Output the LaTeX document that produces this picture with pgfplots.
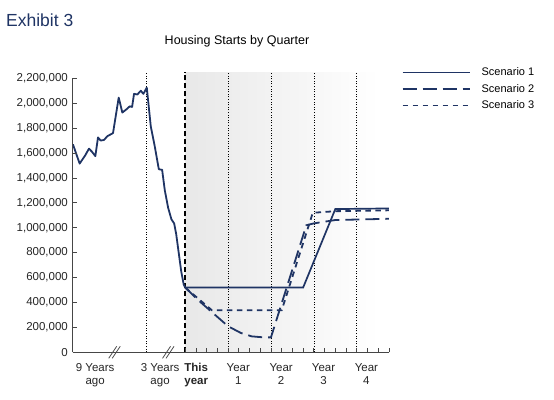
\documentclass[border=0pt]{standalone}
\usepackage{fontspec}
\setmainfont{Liberation Sans}
\usepackage{pgfplots}
\pgfplotsset{compat=1.18}
\definecolor{navy}{RGB}{31,52,100}
\definecolor{axisgray}{RGB}{70,70,70}
\begin{document}
\begin{tikzpicture}[x=1pt,y=1pt]
\node[anchor=base west, font=\fontsize{17.5}{20}\selectfont, text=navy, inner sep=0] at (6,372) {Exhibit 3};
\node[anchor=base, font=\fontsize{12.5}{15}\selectfont, inner sep=0] at (237,354) {Housing Starts by Quarter};
\begin{axis}[
  at={(68,37.5)}, anchor=south west,
  scale only axis, width=316pt, height=274pt,
  xmin=-10.47, xmax=19, ymin=0, ymax=2200000,
  clip=false, axis on top,
  axis x line*=bottom, axis y line*=left,
  axis line style={axisgray, line width=0.9pt},
  every tick/.style={axisgray, line width=0.8pt},
  tick align=inside, major tick length=4.5pt,
  xtick={0,1,2,3,4,5,6,7,8,9,10,11,12,13,14,15,16,17,18,19},
  xticklabels={},
  ytick={0,200000,400000,600000,800000,1000000,1200000,1400000,1600000,1800000,2000000,2200000},
  scaled y ticks=false,
  yticklabel style={/tikz/xshift=-1.5pt, /pgf/number format/.cd, fixed, 1000 sep={,}, assume math mode=true},
  tick label style={font=\fontsize{11.5}{13}\selectfont, text=black!85},
  legend style={draw=none, fill=none, at={(1.04,1.046)}, anchor=north west,
    font=\fontsize{11}{13}\selectfont, row sep=3pt, inner sep=0pt},
  legend cell align=left,
  legend image code/.code={\draw[#1] (0pt,0pt) -- (67pt,0pt); \path[draw=none] (0pt,0pt) -- (77pt,0pt);},
]
\fill[left color=black!9, right color=white, shading=axis] (axis cs:0,0) rectangle (axis cs:18,2250000);
\foreach \xv in {-3.6,4,8,12,16}{
  \edef\tmp{\noexpand\draw[black, line width=0.7pt, dash pattern=on 1pt off 1.6pt] (axis cs:\xv,0) -- (axis cs:\xv,2250000);}\tmp
}
\draw[black, line width=2pt, dash pattern=on 5.5pt off 2.5pt] (axis cs:0,0) -- (axis cs:0,2250000);

\addplot[navy, line width=1.8pt, forget plot, line join=round] coordinates {
(-10.47,1670000) (-9.84,1515000) (-9.32,1582000) (-8.97,1635000) (-8.69,1610000)
(-8.38,1575000) (-8.13,1725000) (-7.88,1700000) (-7.57,1705000) (-7.26,1735000)
(-6.73,1760000) (-6.20,2045000) (-5.86,1925000) (-5.49,1950000) (-5.17,1975000)
(-4.95,1970000) (-4.77,2075000) (-4.46,2070000) (-4.14,2100000) (-3.90,2075000)
(-3.58,2125000) (-3.21,1815000) (-2.83,1650000) (-2.46,1470000) (-2.15,1465000)
(-1.90,1300000) (-1.59,1160000) (-1.28,1067000) (-1.03,1035000) (-0.84,950000)
(-0.37,650000) (-0.14,545000) (0,520000)};

\addplot[navy, line width=1.7pt] coordinates {(0,520000) (11,520000) (14,1150000) (19,1155000)};
\addlegendentry{Scenario 1}
\addplot[navy, line width=1.8pt, dash pattern=on 14pt off 6pt] coordinates {
(0,520000) (1.2,420000) (2.3,337000) (4,209000) (5.2,155000) (6.2,128000) (7.3,120000) (8,120000)
(11.3,1020000) (12,1035000) (14,1062000) (19,1072000)};
\addlegendentry{Scenario 2}
\addplot[navy, line width=1.8pt, dash pattern=on 5.5pt off 4.5pt] coordinates {
(0,520000) (2.5,337000) (9,337000) (11.9,1120000) (14,1133000) (19,1140000)};
\addlegendentry{Scenario 3}

\draw[axisgray, line width=0.8pt] ([xshift=-6pt,yshift=-6pt]axis cs:-6.57,0) -- ++(8pt,12pt);
\draw[axisgray, line width=0.8pt] ([xshift=-2.5pt,yshift=-6pt]axis cs:-6.57,0) -- ++(8pt,12pt);
\draw[axisgray, line width=0.8pt] ([xshift=-6pt,yshift=-6pt]axis cs:-1.55,0) -- ++(8pt,12pt);
\draw[axisgray, line width=0.8pt] ([xshift=-2.5pt,yshift=-6pt]axis cs:-1.55,0) -- ++(8pt,12pt);

\tikzset{xl/.style={anchor=north, align=center, inner sep=0pt, font=\fontsize{11.5}{13}\selectfont, text=black!85}}
\node[xl] at ([yshift=-11pt]axis cs:-8.4,0) {9 Years\\ago};
\node[xl] at ([yshift=-11pt]axis cs:-2.34,0) {3 Years\\ago};
\node[xl, font=\fontsize{11.5}{13}\selectfont\bfseries] at ([yshift=-11pt]axis cs:1.03,0) {This\\year};
\node[xl] at ([yshift=-11pt]axis cs:4.95,0) {Year\\1};
\node[xl] at ([yshift=-11pt]axis cs:8.95,0) {Year\\2};
\node[xl] at ([yshift=-11pt]axis cs:12.9,0) {Year\\3};
\node[xl] at ([yshift=-11pt]axis cs:16.9,0) {Year\\4};
\end{axis}
\pgfresetboundingbox
\path[use as bounding box] (0,0) rectangle (554,399);
\end{tikzpicture}
\end{document}
